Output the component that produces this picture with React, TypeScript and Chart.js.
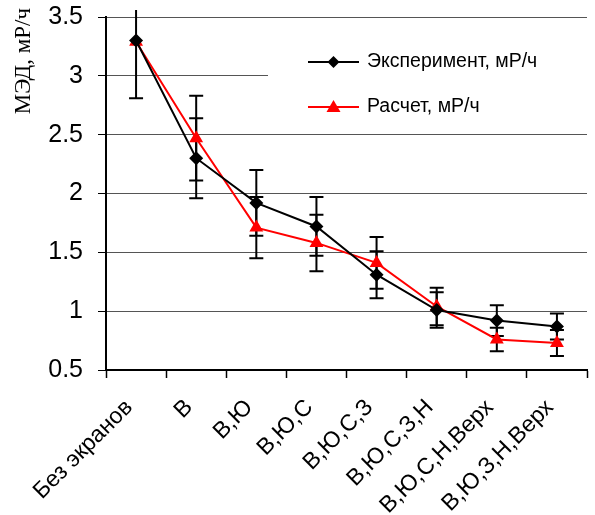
import React, { useEffect, useRef } from 'react';
import { Chart, registerables } from 'chart.js';
Chart.register(...registerables);

const categories = ['Без экранов', 'В', 'В,Ю', 'В,Ю,С', 'В,Ю,С,З', 'В,Ю,С,З,Н', 'В,Ю,С,Н,Верх', 'В,Ю,З,Н,Верх'];
const experiment = [3.3, 2.3, 1.92, 1.72, 1.31, 1.01, 0.92, 0.87];
const experimentErr = [0.49, 0.34, 0.28, 0.25, 0.2, 0.15, 0.13, 0.11];
const calculation = [3.29, 2.47, 1.71, 1.58, 1.41, 1.04, 0.76, 0.73];
const calculationErr = [0, 0.36, 0.26, 0.24, 0.22, 0.16, 0.1, 0.11];
const seriesNames = ['Эксперимент, мР/ч', 'Расчет, мР/ч'];
const yTitle = 'МЭД, мР/ч';

const SANS = "'Liberation Sans', Arial, sans-serif";
const SERIF = "'Liberation Serif', 'Times New Roman', serif";

export default function App() {
  const ref = useRef<HTMLCanvasElement>(null);
  useEffect(() => {
    document.body.style.margin = '0';
    const errs = [experimentErr, calculationErr];

    const errorBars = {
      id: 'errorBars',
      beforeDatasetsDraw(chart: any) {
        const { ctx, chartArea, scales } = chart;
        const x = scales.x, y = scales.y;
        ctx.save();
        ctx.beginPath();
        ctx.rect(chartArea.left, chartArea.top - 7, chartArea.right - chartArea.left, chartArea.bottom - chartArea.top + 14);
        ctx.clip();
        ctx.strokeStyle = '#000';
        ctx.lineWidth = 2;
        chart.data.datasets.forEach((ds: any, di: number) => {
          ds.data.forEach((v: number, i: number) => {
            const e = errs[di][i];
            if (!e) return;
            const px = x.getPixelForValue(i);
            const top = y.getPixelForValue(v + e);
            const bot = y.getPixelForValue(v - e);
            ctx.beginPath();
            ctx.moveTo(px, top); ctx.lineTo(px, bot);
            ctx.moveTo(px - 7, top); ctx.lineTo(px + 7, top);
            ctx.moveTo(px - 7, bot); ctx.lineTo(px + 7, bot);
            ctx.stroke();
          });
        });
        ctx.restore();
      },
    };

    const legendBox = {
      id: 'legendBox',
      afterDatasetsDraw(chart: any) {
        const { ctx } = chart;
        ctx.save();
        ctx.fillStyle = '#fff';
        ctx.fillRect(268, 30, 330, 95);
        const rows = [
          { y: 62, color: '#000', style: 'diamond', text: seriesNames[0] },
          { y: 107, color: '#ff0000', style: 'tri', text: seriesNames[1] },
        ];
        rows.forEach((r) => {
          ctx.strokeStyle = r.color;
          ctx.lineWidth = 2;
          ctx.beginPath();
          ctx.moveTo(308, r.y); ctx.lineTo(359, r.y);
          ctx.stroke();
          ctx.fillStyle = r.color;
          ctx.beginPath();
          const cx = 333.5;
          if (r.style === 'diamond') {
            ctx.moveTo(cx, r.y - 6); ctx.lineTo(cx + 6, r.y); ctx.lineTo(cx, r.y + 6); ctx.lineTo(cx - 6, r.y);
          } else {
            ctx.moveTo(cx, r.y - 7); ctx.lineTo(cx + 7, r.y + 5); ctx.lineTo(cx - 7, r.y + 5);
          }
          ctx.closePath();
          ctx.fill();
          ctx.fillStyle = '#000';
          ctx.font = `19.5px ${SANS}`;
          ctx.textBaseline = 'middle';
          ctx.textAlign = 'left';
          ctx.fillText(r.text, 367, r.y);
        });
        // y-axis title
        ctx.save();
        ctx.translate(30, 8);
        ctx.rotate(-Math.PI / 2);
        ctx.font = `23px ${SERIF}`;
        ctx.textAlign = 'right';
        ctx.textBaseline = 'alphabetic';
        ctx.fillStyle = '#000';
        ctx.fillText(yTitle, 0, 0);
        ctx.restore();
        ctx.restore();
      },
    };

    const chart = new Chart(ref.current as HTMLCanvasElement, {
      type: 'line',
      data: {
        labels: categories,
        datasets: [
          {
            label: seriesNames[0],
            data: experiment,
            borderColor: '#000',
            backgroundColor: '#000',
            borderWidth: 2,
            pointStyle: 'rectRot',
            pointRadius: 7,
            pointBorderWidth: 0,
            tension: 0,
          },
          {
            label: seriesNames[1],
            data: calculation,
            borderColor: '#ff0000',
            backgroundColor: '#ff0000',
            borderWidth: 2,
            pointStyle: 'triangle',
            pointRadius: 8,
            pointBorderWidth: 0,
            tension: 0,
          },
        ],
      },
      options: {
        responsive: false,
        animation: false,
        layout: { padding: { top: 17, right: 0, left: 0, bottom: 0 } },
        plugins: { legend: { display: false }, tooltip: { enabled: false } },
        scales: {
          x: {
            offset: true,
            afterFit: (s: any) => { s.height = 145; s.paddingLeft = 0; s.paddingRight = 0; },
            grid: { display: true, drawOnChartArea: false, offset: true, tickLength: 8, tickColor: '#000', tickWidth: 1.5 },
            border: { color: '#000', width: 2 },
            ticks: {
              autoSkip: false, maxRotation: 45, minRotation: 45, color: '#000', padding: 16, labelOffset: -7,
              font: { family: SANS, size: 23 },
            },
          },
          y: {
            min: 0.5, max: 3.5,
            afterFit: (s: any) => { s.width = 106; s.paddingTop = 0; s.paddingBottom = 0; },
            grid: { color: '#555', lineWidth: 1, tickLength: 8, tickColor: '#000' },
            border: { color: '#000', width: 2 },
            ticks: {
              stepSize: 0.5, color: '#000', padding: 15, font: { family: SANS, size: 25 },
              callback: (v: any) => String(v),
            },
          },
        },
      },
      plugins: [errorBars, legendBox],
    });
    return () => chart.destroy();
  }, []);
  return (
    <div style={{ width: 595, height: 515 }}>
      <canvas ref={ref} width={595} height={515} style={{ display: 'block' }} />
    </div>
  );
}
